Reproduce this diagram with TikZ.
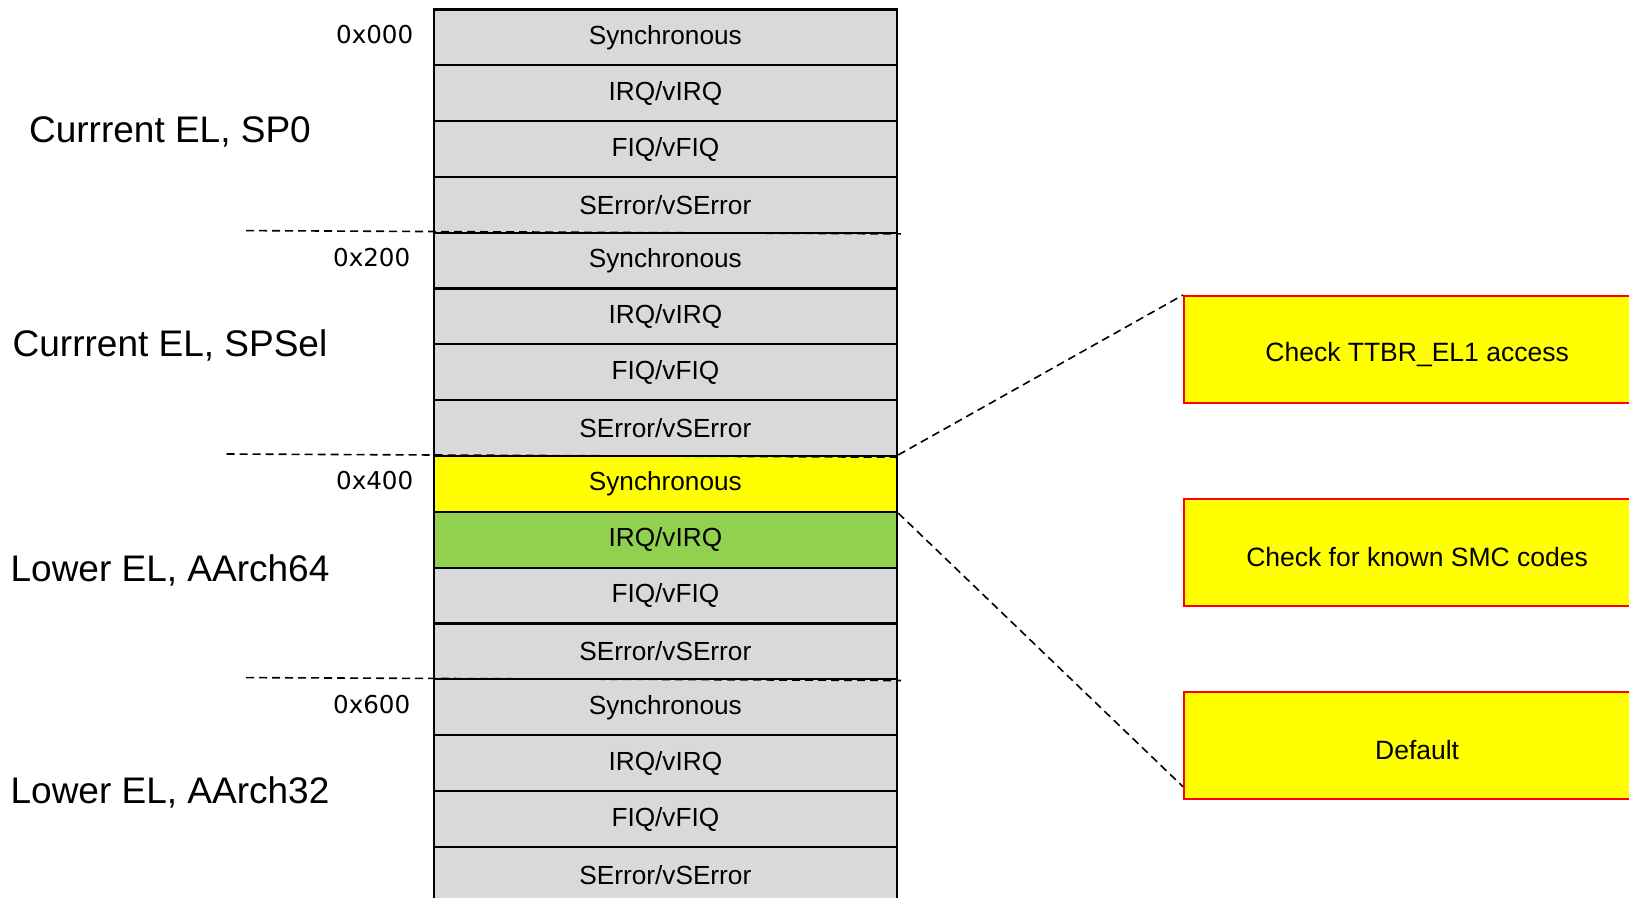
\documentclass[tikz,border=0pt]{standalone}
\usepackage{fontspec}
\setmainfont{Liberation Sans}
\newfontfamily\hexfont{DejaVu Sans}
\usetikzlibrary{calc}
\definecolor{rowgray}{HTML}{D9D9D9}
\definecolor{rowgreen}{HTML}{92D050}
\definecolor{hiyellow}{HTML}{FFFF00}
\definecolor{boxred}{HTML}{FF0000}
\tikzset{
  rowbox/.style={draw=black, line width=2.2pt, fill=rowgray, minimum width=463.5pt,
    minimum height=55.9pt, inner sep=0pt, anchor=north west,
    font=\fontsize{26.2}{30}\selectfont},
  handler/.style={draw=boxred, line width=2.2pt, fill=hiyellow, minimum width=466pt,
    minimum height=107pt, inner sep=0pt, anchor=north west},
  handlertext/.style={font=\fontsize{26.5}{30}\selectfont, inner sep=0pt},
  grouplabel/.style={font=\fontsize{37}{42}\selectfont, inner sep=0pt},
  hexlabel/.style={font=\hexfont\fontsize{24.6}{28}\selectfont, inner sep=0pt, anchor=east},
  sepline/.style={draw=black, line width=1.6pt, dash pattern=on 8pt off 5pt},
  linkline/.style={draw=black, line width=1.6pt, dash pattern=on 8pt off 5pt}
}
\begin{document}
\begin{tikzpicture}[x=1pt,y=-1pt]
\useasboundingbox (0,0) rectangle (1629,897);
\clip (0,0) rectangle (1629,897);
% vector table rows
\foreach \i/\t/\c in {0/Synchronous/rowgray,1/IRQ\slash vIRQ/rowgray,2/FIQ\slash vFIQ/rowgray,3/SError\slash vSError/rowgray,
  4/Synchronous/rowgray,5/IRQ\slash vIRQ/rowgray,6/FIQ\slash vFIQ/rowgray,7/SError\slash vSError/rowgray,
  8/Synchronous/hiyellow,9/IRQ\slash vIRQ/rowgreen,10/FIQ\slash vFIQ/rowgray,11/SError\slash vSError/rowgray,
  12/Synchronous/rowgray,13/IRQ\slash vIRQ/rowgray,14/FIQ\slash vFIQ/rowgray,15/SError\slash vSError/rowgray}
{
  \node[rowbox, fill=\c] (r\i) at (432.5, {8.3+55.83*\i}) {\t};
}
% offsets
\node[hexlabel] (h0) at ([xshift=-19pt,yshift=3pt]r0.west) {0x000};
\node[hexlabel] (h2) at ([xshift=-22pt,yshift=3pt]r4.west) {0x200};
\node[hexlabel] (h4) at ([xshift=-19pt,yshift=3pt]r8.west) {0x400};
\node[hexlabel] (h6) at ([xshift=-22pt,yshift=3pt]r12.west) {0x600};
% group labels
\node[grouplabel] (g0) at (170,131.5) {Currrent EL, SP0};
\node[grouplabel] (g1) at (170,345.5) {Currrent EL, SPSel};
\node[grouplabel] (g2) at (170,570) {Lower EL, AArch64};
\node[grouplabel] (g3) at (170,792.5) {Lower EL, AArch32};
% separators
\coordinate (s1) at (246,230.6);
\coordinate (s2) at (226.5,454);
\coordinate (s3) at (246,677.6);
\draw[sepline] (s1) -- ([xshift=3pt]r3.south east);
\draw[sepline] (s2) -- (r7.south east);
\draw[sepline] (s3) -- ([xshift=3pt]r11.south east);
% handler boxes
\node[handler] (b1) at (1183,295) {};
\node[handler] (b2) at (1183,497.6) {};
\node[handler] (b3) at (1183,690.5) {};
\node[handlertext] (t1) at ([yshift=-5pt]b1.center) {Check TTBR\_EL1 access};
\node[handlertext] (t2) at ([yshift=-5pt]b2.center) {Check for known SMC codes};
\node[handlertext] (t3) at ([yshift=-5pt]b3.center) {Default};
% zoom connectors
\draw[linkline] (r8.north east) -- (b1.north west);
\draw[linkline] (r8.south east) -- ([yshift=13pt]b3.south west);
\end{tikzpicture}
\end{document}
